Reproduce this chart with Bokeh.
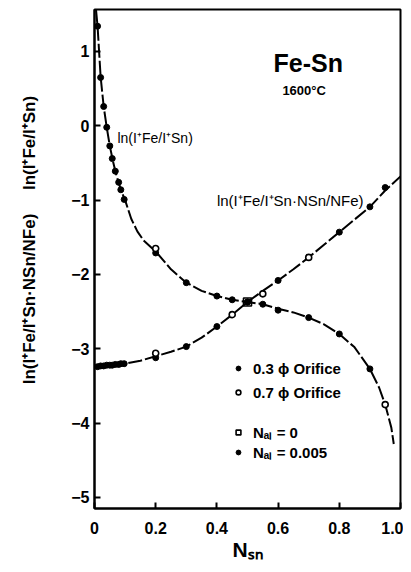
from bokeh.plotting import figure
from bokeh.models import (Range1d, FixedTicker, CustomJSTickFormatter, Label,
                          Legend, LegendItem)
from bokeh.embed import file_html
from bokeh.resources import INLINE

# ---------------- data ----------------
# ln(I+Fe / I+Sn)  -- upper, decreasing curve
upper_small_x = [0.010, 0.020, 0.030, 0.040, 0.050, 0.058, 0.068, 0.079, 0.086, 0.097,
                 0.2, 0.3, 0.4, 0.45, 0.5, 0.55, 0.6, 0.7, 0.8, 0.9]
upper_small_y = [1.34, 0.65, 0.26, -0.02, -0.27, -0.44, -0.61, -0.76, -0.86, -0.99,
                 -1.71, -2.11, -2.29, -2.34, -2.37, -2.40, -2.48, -2.58, -2.80, -3.27]
upper_large_x = [0.2, 0.95]
upper_large_y = [-1.65, -3.75]

# ln(I+Fe / I+Sn * NSn/NFe)  -- lower, increasing curve
lower_small_x = [0.010, 0.020, 0.030, 0.040, 0.050, 0.058, 0.068, 0.079, 0.086, 0.097,
                 0.2, 0.3, 0.4, 0.5, 0.6, 0.8, 0.9, 0.95]
lower_small_y = [-3.24, -3.23, -3.23, -3.22, -3.22, -3.22, -3.21, -3.21, -3.20, -3.20,
                 -3.12, -2.97, -2.70, -2.37, -2.08, -1.43, -1.09, -0.83]
lower_large_x = [0.2, 0.45, 0.55, 0.7]
lower_large_y = [-3.06, -2.54, -2.26, -1.77]

# N_Al = 0 point
nal0_x = [0.5]
nal0_y = [-2.37]

# smooth fitted curves
upper_curve_x = [0.005, 0.01, 0.02, 0.03, 0.04, 0.05, 0.06, 0.07, 0.08, 0.09, 0.1, 0.12,
                 0.14, 0.16, 0.2, 0.25, 0.3, 0.35, 0.4, 0.45, 0.5, 0.55, 0.6, 0.65, 0.7,
                 0.75, 0.8, 0.85, 0.9, 0.93, 0.95, 0.97, 0.978]
upper_curve_y = [1.56, 1.34, 0.66, 0.26, -0.02, -0.27, -0.47, -0.64, -0.78, -0.90, -1.00,
                 -1.25, -1.42, -1.54, -1.69, -1.93, -2.11, -2.22, -2.29, -2.34, -2.37,
                 -2.40, -2.46, -2.51, -2.58, -2.67, -2.80, -2.98, -3.27, -3.52, -3.75,
                 -4.06, -4.28]
lower_curve_x = [0.0, 0.05, 0.1, 0.15, 0.2, 0.25, 0.3, 0.35, 0.4, 0.45, 0.5, 0.55, 0.6,
                 0.65, 0.7, 0.75, 0.8, 0.85, 0.9, 0.95, 1.0]
lower_curve_y = [-3.23, -3.22, -3.20, -3.16, -3.10, -3.04, -2.97, -2.85, -2.70, -2.54,
                 -2.37, -2.22, -2.08, -1.93, -1.77, -1.60, -1.43, -1.26, -1.09, -0.87,
                 -0.68]

x_ticks = [0, 0.2, 0.4, 0.6, 0.8, 1.0]
y_ticks = [-5, -4, -3, -2, -1, 0, 1]

FONT = "Liberation Sans"
NB = "\u00a0"

p = figure(width=403, height=564, output_backend="svg", toolbar_location=None,
           x_range=Range1d(0, 1), y_range=Range1d(-5.148, 1.565),
           min_border_left=94, min_border_right=3, min_border_top=9,
           min_border_bottom=56, background_fill_color="white",
           border_fill_color="white")
p.grid.visible = False
p.outline_line_color = "black"
p.outline_line_width = 2
p.outline_line_alpha = 1

for ax in (p.xaxis[0], p.yaxis[0]):
    ax.axis_line_width = 2
    ax.axis_line_color = "black"
    ax.major_tick_in = 6
    ax.major_tick_out = 0
    ax.major_tick_line_width = 2
    ax.minor_tick_in = 0
    ax.minor_tick_out = 0
    ax.major_label_text_font = FONT
    ax.major_label_text_font_style = "bold"
    ax.major_label_text_color = "black"
    ax.axis_label_text_font = FONT
    ax.axis_label_text_font_style = "bold"
    ax.axis_label_text_color = "black"

p.xaxis.ticker = FixedTicker(ticks=x_ticks)
p.xaxis.formatter = CustomJSTickFormatter(code="return tick == 0 ? '0' : tick.toFixed(1);")
p.xaxis.major_label_text_font_size = "16px"
p.xaxis.major_label_standoff = 13
p.xaxis.axis_label = "N\u209b\u2099"
p.xaxis.axis_label_text_font_size = "21px"
p.xaxis.axis_label_standoff = 1

p.yaxis.ticker = FixedTicker(ticks=y_ticks)
p.yaxis.formatter = CustomJSTickFormatter(
    code="return tick < 0 ? '\u2212' + Math.abs(tick).toFixed(0) : tick.toFixed(0);")
p.yaxis.major_label_text_font_size = "16px"
p.yaxis.major_label_standoff = 5
p.yaxis.axis_label = (NB * 8 + "ln(I\u207aFe/I\u207aSn\u00b7NSn/NFe)" + NB * 5 +
                      "ln(I\u207aFe/I\u207aSn)")
p.yaxis.axis_label_text_font_size = "17px"
p.yaxis.axis_label_standoff = 29

DASH = "14 3"
p.line(upper_curve_x, upper_curve_y, line_color="black", line_width=2, line_dash=DASH)
p.line(lower_curve_x, lower_curve_y, line_color="black", line_width=2, line_dash=DASH)

r_fill = p.scatter(upper_small_x, upper_small_y, marker="circle", size=6,
                   fill_color="black", line_color="black")
p.scatter(lower_small_x, lower_small_y, marker="circle", size=6,
          fill_color="black", line_color="black")
r_open = p.scatter(upper_large_x, upper_large_y, marker="circle", size=6,
                   fill_color="white", line_color="black", line_width=1.6)
p.scatter(lower_large_x, lower_large_y, marker="circle", size=6,
          fill_color="white", line_color="black", line_width=1.6)
r_sq = p.scatter(nal0_x, nal0_y, marker="square", size=8,
                 fill_color="white", fill_alpha=0, line_color="black", line_width=1.6)


def make_legend(items, loc, spacing):
    lg = Legend(items=items, location=loc, border_line_color=None,
                background_fill_alpha=0, padding=0, margin=0, spacing=spacing,
                glyph_width=12, glyph_height=20, label_height=20, label_standoff=9,
                label_text_font=FONT, label_text_font_size="15px",
                label_text_font_style="bold", label_text_color="black")
    return lg


leg1 = make_legend([LegendItem(label="0.3 \u03d5 Orifice", renderers=[r_fill]),
                    LegendItem(label="0.7 \u03d5 Orifice", renderers=[r_open])],
                   (138, 106), 4)
leg2 = make_legend([LegendItem(label="N\u2090\u2097 = 0", renderers=[r_sq]),
                    LegendItem(label="N\u2090\u2097 = 0.005", renderers=[r_fill])],
                   (138, 46), 0)
p.add_layout(leg1)
p.add_layout(leg2)

p.add_layout(Label(x=0.585, y=0.84, text="Fe-Sn", text_font=FONT, text_font_size="25px",
                   text_font_style="bold", text_baseline="middle", text_color="black"))
p.add_layout(Label(x=0.614, y=0.475, text="1600\u00b0C", text_font=FONT,
                   text_font_size="13px", text_font_style="bold",
                   text_baseline="middle", text_color="black"))
p.add_layout(Label(x=0.075, y=-0.157, text="ln(I\u207aFe/I\u207aSn)", text_font=FONT,
                   text_font_size="14px", text_baseline="middle", text_color="black"))
p.add_layout(Label(x=0.40, y=-1.0, text="ln(I\u207aFe/I\u207aSn\u00b7NSn/NFe)",
                   text_font=FONT, text_font_size="15px", text_baseline="middle",
                   text_color="black"))

open("out.html", "w").write(file_html(p, INLINE))
